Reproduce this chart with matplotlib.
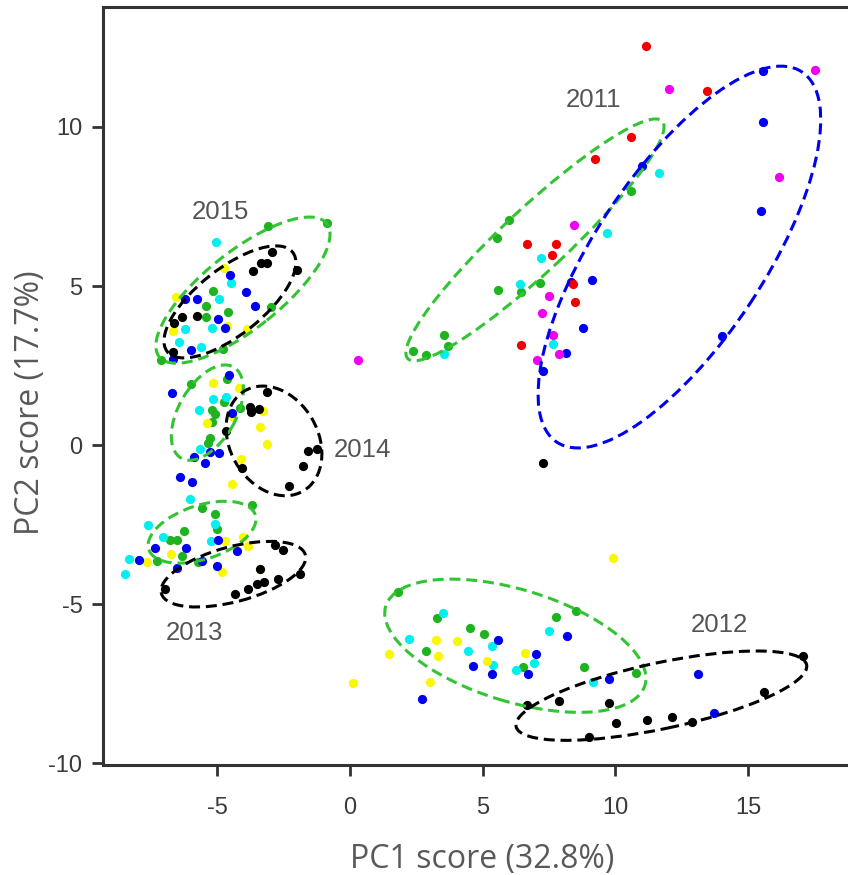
import numpy as np
import matplotlib
matplotlib.use("Agg")
import matplotlib.pyplot as plt
from matplotlib.patches import Ellipse
from matplotlib.transforms import ScaledTranslation

plt.rcParams['axes.unicode_minus'] = False

# PC scores, grouped by marker colour
green_x = [10.57, 5.98, 5.55, 5.59, 6.43, 7.16, 3.54, 3.68, 2.38, 2.86,
           1.82, 3.29, 4.52, 5.06, 2.86, 7.75, 8.50, 6.53, 8.82, 10.76,
           -3.09, -0.85, -5.17, -5.42, -5.42, -4.58, -2.98, -7.11, -4.77,
           -6.00, -4.64, -4.73, -5.21, -5.07, -5.18, -4.13, -5.27, -5.34,
           -5.59, -3.70, -5.08, -6.26, -5.02, -6.79, -6.52, -7.28, -6.31, -5.73]
green_y = [8.00, 7.08, 6.50, 4.87, 4.82, 5.10, 3.46, 3.12, 2.96, 2.83,
           -4.61, -5.43, -5.76, -5.95, -6.48, -5.42, -5.21, -6.97, -6.97, -7.18,
           6.89, 6.99, 4.84, 4.37, 4.04, 4.18, 4.35, 2.67, 3.01,
           1.91, 2.07, 1.35, 1.10, 0.97, 0.73, 1.15, 0.21, 0.05,
           -1.98, -1.88, -2.18, -2.70, -2.65, -2.97, -3.00, -3.66, -3.49, -3.67]

cyan_x = [11.66, 9.67, 7.18, 6.41, 7.65, 3.54,
          3.51, 2.23, 4.46, 5.34, 5.37, 6.24, 6.94, 7.51, 9.14,
          -5.04, -4.48, -4.92, -6.21, -5.20, -6.42, -5.60,
          -5.15, -4.65, -5.68, -5.64, -6.01,
          -7.60, -7.04, -5.25, -5.07, -8.31, -8.47]
cyan_y = [8.55, 6.68, 5.87, 5.05, 3.17, 2.85,
          -5.29, -6.10, -6.48, -6.32, -6.92, -7.08, -6.85, -5.84, -7.44,
          6.39, 5.08, 4.58, 3.65, 3.69, 3.25, 3.09,
          1.46, 1.51, 1.10, -0.14, -1.69,
          -2.50, -2.88, -3.02, -2.48, -3.58, -4.05]

yellow_x = [9.92,
            1.47, 3.24, 4.02, 3.33, 3.01, 5.15, 6.59, 0.10, 7.88,
            -4.76, -6.55, -6.66, -4.64, -3.86,
            -5.15, -4.17, -5.40, -4.42, -3.39, -3.11, -3.29, -4.09, -4.44,
            -6.73, -7.65, -4.71, -4.02, -3.85, -4.83, -3.40]
yellow_y = [-3.54,
            -6.57, -6.13, -6.15, -6.63, -7.44, -6.78, -6.53, -7.47, -8.04,
            5.58, 4.66, 3.58, 3.74, 3.65,
            1.96, 1.79, 0.70, 0.89, 0.57, 0.04, 1.08, -0.45, -1.24,
            -3.42, -3.69, -3.01, -2.89, -3.17, -4.00, -3.89]

blue_x = [15.57, 15.57, 15.48, 10.99, 9.13, 8.34, 8.76, 8.12, 7.26, 14.00,
          5.56, 6.99, 4.64, 5.34, 6.69, 8.16, 9.77, 2.72, 13.10, 13.71,
          -4.52, -3.90, -6.21, -5.77, -3.57, -4.96, -4.70, -5.98, -6.67,
          -4.56, -6.72, -4.46, -5.89, -5.46, -5.27, -4.95, -6.40, -5.96,
          -7.34, -6.18, -7.94, -4.96, -4.24, -5.57, -6.53, -5.02]
blue_y = [11.76, 10.15, 7.36, 8.78, 5.19, 5.13, 3.67, 2.89, 2.33, 3.44,
          -6.13, -6.58, -6.95, -7.21, -7.21, -6.01, -7.35, -8.00, -7.20, -8.42,
          5.35, 4.82, 4.58, 4.58, 4.36, 3.96, 3.68, 2.98, 2.70,
          2.21, 1.64, 1.00, -0.37, -0.57, -0.21, -0.25, -1.00, -1.16,
          -3.25, -3.25, -3.63, -2.97, -3.33, -3.66, -3.86, -3.80]

black_x = [7.26,
           6.66, 7.88, 9.77, 10.02, 11.19, 12.14, 12.87, 9.01, 15.60, 17.07,
           -2.95, -3.13, -3.35, -3.64, -2.01, -6.34, -5.77, -6.62, -6.67,
           -3.14, -3.77, -3.73, -3.43, -4.67, -1.57, -1.24, -1.76, -4.05, -2.29,
           -2.81, -2.52, -6.97, -4.34, -3.83, -3.49, -3.23, -2.70, -1.89, -3.39]
black_y = [-0.58,
           -8.18, -8.04, -8.11, -8.74, -8.65, -8.54, -8.70, -9.17, -7.78, -6.64,
           6.07, 5.72, 5.72, 5.46, 5.50, 4.04, 4.06, 3.83, 2.94,
           1.68, 1.20, 1.05, 1.13, 0.45, -0.19, -0.14, -0.66, -0.73, -1.29,
           -3.14, -3.30, -4.52, -4.69, -4.54, -4.37, -4.30, -4.22, -4.05, -3.90]

red_x = [11.17, 13.46, 10.57, 9.22, 6.66, 7.76, 7.62, 8.40, 8.47, 6.44]
red_y = [12.53, 11.14, 9.69, 8.99, 6.31, 6.31, 5.97, 5.06, 4.50, 3.14]

magenta_x = [12.00, 17.51, 16.16, 8.44, 7.50, 7.23, 7.63, 7.05, 7.86, 0.29]
magenta_y = [11.19, 11.79, 8.44, 6.92, 4.69, 4.16, 3.46, 2.67, 2.86, 2.67]

# group labels
year_labels = ['2015', '2011', '2014', '2013', '2012']
year_x = [-4.86, 9.19, 0.46, -5.86, 13.9]
year_y = [7.33, 10.85, -0.16, -5.92, -5.66]

# ellipses: centre (data), width/height (px), angle (deg), colour
GREEN_E = '#33c433'
ellipses = [
    (-4.03, 4.87, 214, 77, 38.5, GREEN_E),
    (-4.52, 4.50, 160, 66, 38.4, 'black'),
    (-5.37, 1.02, 105, 57, 60, GREEN_E),
    (-2.86, 0.13, 116, 88, -60, 'black'),
    (-5.57, -2.74, 112, 54, 18, GREEN_E),
    (-4.39, -4.06, 149, 55, 15, 'black'),
    (6.23, -6.31, 271, 112, -17, GREEN_E),
    (11.73, -7.88, 297, 66, 12, 'black'),
    (6.97, 6.45, 348, 64, 43, GREEN_E),
    (12.41, 5.91, 444, 169, 56.5, '#0000ee'),
]

fig = plt.figure(figsize=(8.48, 8.75), dpi=100)
ax = fig.add_axes([0.1218, 0.1257, 0.8782, 0.8666])

groups = [
    (green_x, green_y, '#1fb41f'),
    (cyan_x, cyan_y, '#00f0f0'),
    (yellow_x, yellow_y, '#f8f800'),
    (blue_x, blue_y, '#0000f0'),
    (black_x, black_y, '#000000'),
    (red_x, red_y, '#f00000'),
    (magenta_x, magenta_y, '#f000f0'),
]
for gx, gy, col in groups:
    ax.scatter(gx, gy, s=44, c=col, linewidths=0, zorder=2)

for cx, cy, w, h, ang, col in ellipses:
    tr = fig.dpi_scale_trans + ScaledTranslation(cx, cy, ax.transData)
    e = Ellipse((0, 0), w / 100, h / 100, angle=ang, fill=False, ec=col,
                lw=2.2, ls=(0, (3.6, 1.9)), transform=tr, zorder=3)
    ax.add_patch(e)

for lab, tx, ty in zip(year_labels, year_x, year_y):
    ax.text(tx, ty, lab, ha='center', va='center', fontsize=18.5,
            color='#555555', family='Liberation Sans', zorder=4)

ax.set_xlim(-9.29, 18.76)
ax.set_ylim(-10.06, 13.78)
ax.set_xticks([-5, 0, 5, 10, 15])
ax.set_yticks([-10, -5, 0, 5, 10])

for side in ['left', 'bottom', 'top']:
    ax.spines[side].set_linewidth(2.2)
    ax.spines[side].set_color('#333333')
ax.spines['right'].set_visible(False)

ax.tick_params(axis='both', direction='out', length=8, width=2,
               color='#333333', labelsize=17, labelcolor='#3a3a3a')
ax.tick_params(axis='x', pad=15)
ax.tick_params(axis='y', pad=7)
for lbl in ax.get_xticklabels() + ax.get_yticklabels():
    lbl.set_family('Liberation Sans')

fig.text(482 / 848, 0.008, 'PC1 score (32.8%)', ha='center', va='baseline',
         fontsize=23, color='#595959', family='Open Sans')
fig.text(31 / 848, 0.54, 'PC2 score (17.7%)', ha='center', va='center',
         rotation=90, fontsize=23, color='#595959', family='Open Sans')

fig.savefig('out.png', dpi=100)
